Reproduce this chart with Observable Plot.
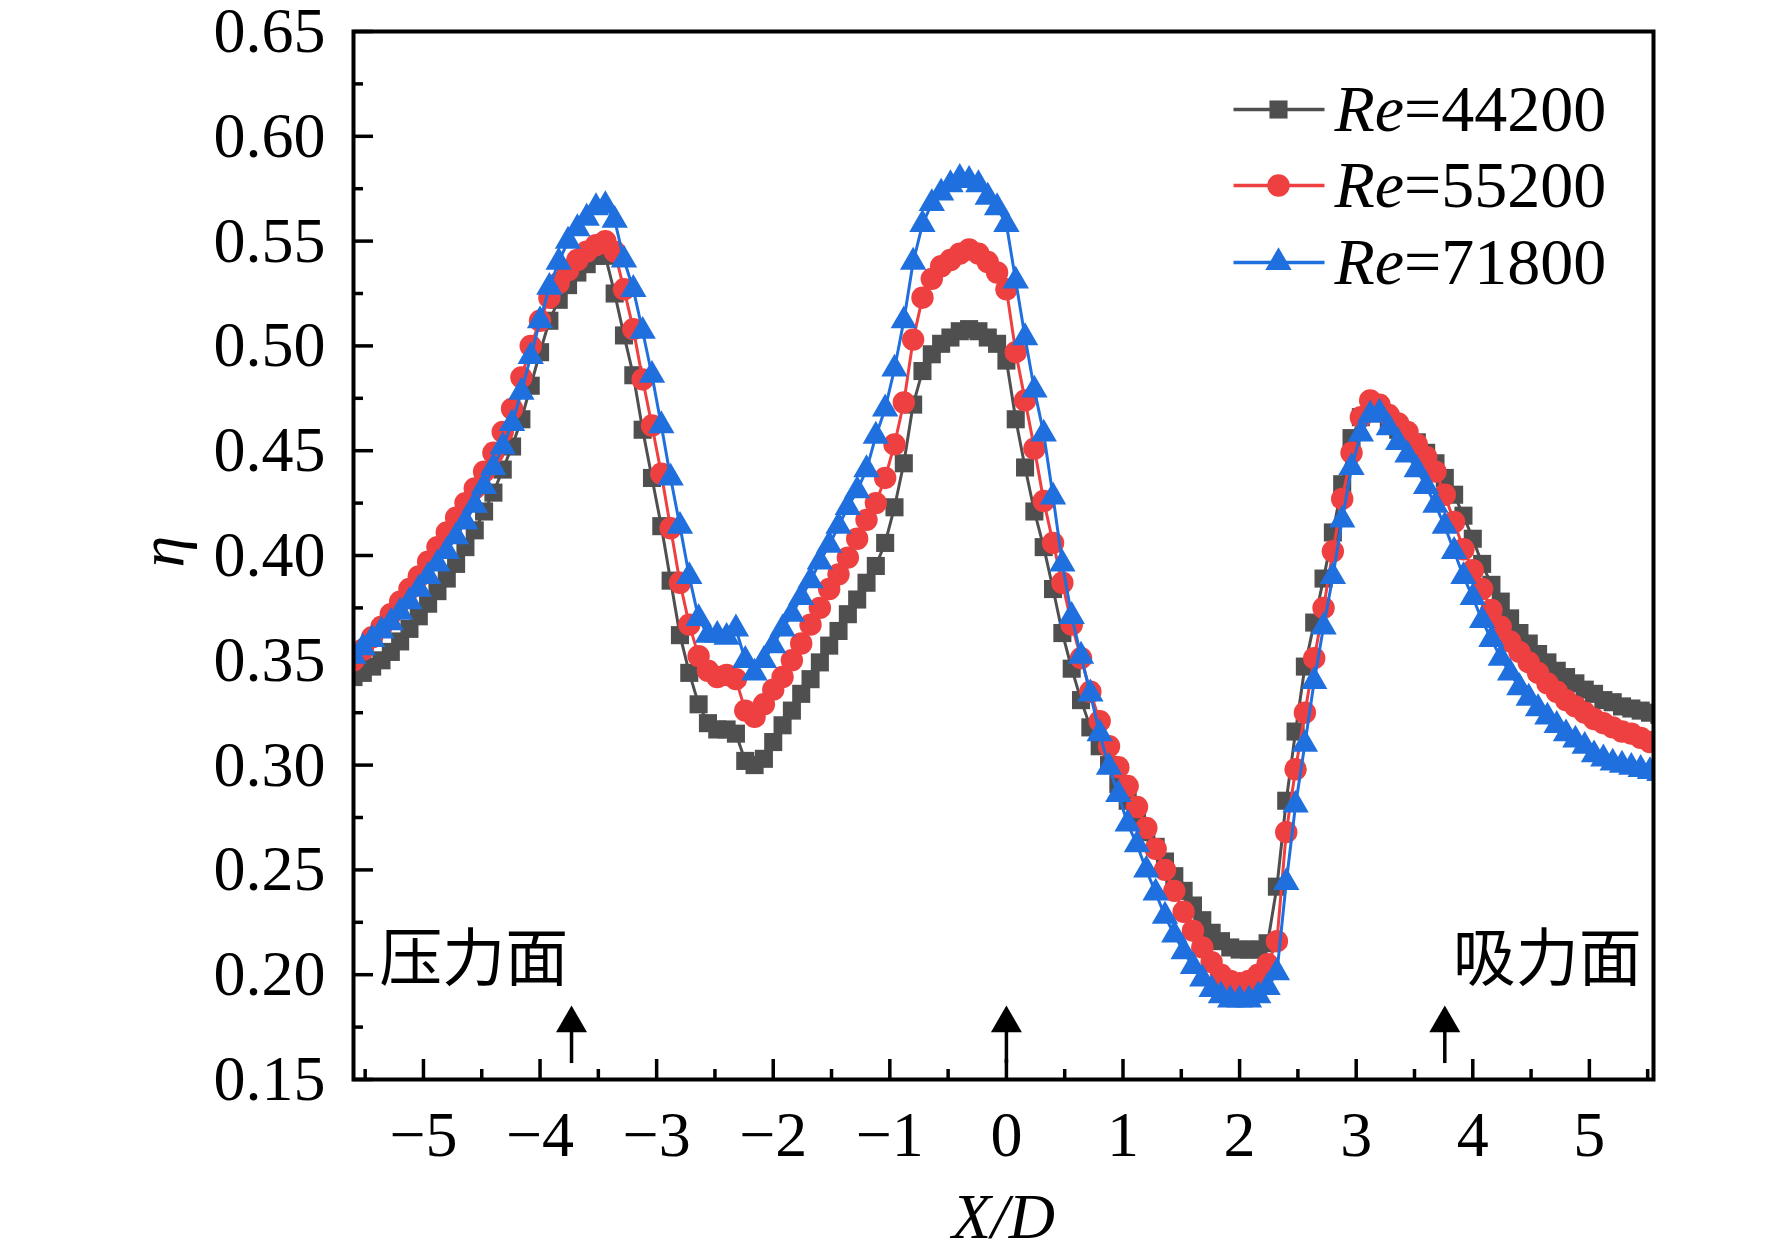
<!DOCTYPE html>
<html><head><meta charset="utf-8">
<script src="https://cdn.jsdelivr.net/npm/d3@7"></script>
<script src="https://cdn.jsdelivr.net/npm/@observablehq/plot@0.6"></script>
<style>
html,body{margin:0;padding:0;background:#fff;}
#chart{width:1772px;height:1252px;overflow:hidden;}
</style></head><body><div id="chart"></div>
<script>
// ---------- data ----------
const xD = [-5.60,-5.52,-5.44,-5.36,-5.28,-5.20,-5.12,-5.04,-4.96,-4.88,
  -4.80,-4.72,-4.64,-4.56,-4.48,-4.40,-4.32,-4.24,-4.16,-4.08,
  -4.00,-3.92,-3.84,-3.76,-3.68,-3.60,-3.52,-3.44,-3.36,-3.28,
  -3.20,-3.12,-3.04,-2.96,-2.88,-2.80,-2.72,-2.64,-2.56,-2.48,
  -2.40,-2.32,-2.24,-2.16,-2.08,-2.00,-1.92,-1.84,-1.76,-1.68,
  -1.60,-1.52,-1.44,-1.36,-1.28,-1.20,-1.12,-1.04,-0.96,-0.88,
  -0.80,-0.72,-0.64,-0.56,-0.48,-0.40,-0.32,-0.24,-0.16,-0.08,
  0.00,0.08,0.16,0.24,0.32,0.40,0.48,0.56,0.64,0.72,
  0.80,0.88,0.96,1.04,1.12,1.20,1.28,1.36,1.44,1.52,
  1.60,1.68,1.76,1.84,1.92,2.00,2.08,2.16,2.24,2.32,
  2.40,2.48,2.56,2.64,2.72,2.80,2.88,2.96,3.04,3.12,
  3.20,3.28,3.36,3.44,3.52,3.60,3.68,3.76,3.84,3.92,
  4.00,4.08,4.16,4.24,4.32,4.40,4.48,4.56,4.64,4.72,
  4.80,4.88,4.96,5.04,5.12,5.20,5.28,5.36,5.44,5.52,
  5.60];

const re44200 = [0.342,0.344,0.347,0.350,0.354,0.359,0.365,0.371,0.377,0.383,
  0.389,0.396,0.404,0.412,0.421,0.430,0.441,0.452,0.465,0.481,
  0.497,0.512,0.522,0.529,0.535,0.539,0.543,0.543,0.525,0.505,
  0.486,0.460,0.437,0.414,0.388,0.362,0.344,0.329,0.320,0.317,
  0.317,0.315,0.302,0.300,0.303,0.311,0.319,0.326,0.334,0.341,
  0.349,0.357,0.364,0.372,0.379,0.387,0.395,0.406,0.423,0.444,
  0.472,0.488,0.496,0.501,0.504,0.507,0.508,0.507,0.504,0.501,
  0.493,0.465,0.442,0.421,0.404,0.384,0.363,0.346,0.331,0.318,
  0.309,0.300,0.291,0.283,0.276,0.268,0.261,0.254,0.247,0.240,
  0.233,0.226,0.220,0.216,0.213,0.212,0.212,0.212,0.215,0.242,
  0.283,0.316,0.347,0.368,0.389,0.411,0.434,0.456,0.466,0.471,
  0.468,0.463,0.460,0.457,0.454,0.449,0.444,0.437,0.429,0.419,
  0.408,0.396,0.386,0.378,0.370,0.363,0.358,0.353,0.349,0.345,
  0.342,0.339,0.336,0.334,0.331,0.330,0.328,0.327,0.326,0.325,
  0.324];

const re55200 = [0.350,0.355,0.361,0.366,0.372,0.378,0.384,0.390,0.397,0.404,
  0.411,0.418,0.425,0.432,0.440,0.449,0.459,0.470,0.485,0.500,
  0.512,0.523,0.530,0.536,0.541,0.545,0.548,0.550,0.545,0.527,
  0.508,0.484,0.462,0.439,0.413,0.387,0.367,0.352,0.345,0.342,
  0.343,0.341,0.326,0.323,0.329,0.336,0.342,0.350,0.358,0.367,
  0.375,0.384,0.391,0.399,0.408,0.417,0.425,0.437,0.453,0.473,
  0.503,0.523,0.532,0.538,0.541,0.544,0.546,0.544,0.540,0.535,
  0.527,0.497,0.474,0.451,0.426,0.406,0.387,0.367,0.351,0.335,
  0.321,0.309,0.299,0.290,0.280,0.270,0.260,0.250,0.240,0.230,
  0.221,0.213,0.206,0.200,0.197,0.196,0.197,0.200,0.205,0.216,
  0.268,0.298,0.325,0.351,0.375,0.402,0.427,0.449,0.466,0.474,
  0.472,0.467,0.463,0.459,0.453,0.447,0.440,0.429,0.416,0.403,
  0.393,0.384,0.374,0.366,0.359,0.354,0.349,0.344,0.339,0.335,
  0.331,0.328,0.325,0.322,0.320,0.318,0.316,0.315,0.313,0.311,
  0.310];

const re71800 = [0.352,0.356,0.360,0.364,0.368,0.373,0.378,0.384,0.390,0.396,
  0.402,0.409,0.416,0.424,0.433,0.442,0.452,0.463,0.478,0.495,
  0.512,0.528,0.540,0.550,0.556,0.561,0.566,0.567,0.560,0.541,
  0.527,0.507,0.486,0.462,0.437,0.414,0.390,0.370,0.362,0.362,
  0.361,0.365,0.350,0.344,0.350,0.357,0.365,0.372,0.380,0.388,
  0.397,0.405,0.414,0.423,0.431,0.441,0.457,0.470,0.489,0.512,
  0.540,0.558,0.568,0.573,0.577,0.580,0.579,0.577,0.571,0.566,
  0.558,0.531,0.504,0.479,0.458,0.428,0.396,0.371,0.352,0.334,
  0.315,0.299,0.286,0.272,0.262,0.250,0.239,0.228,0.219,0.211,
  0.204,0.198,0.193,0.190,0.188,0.188,0.188,0.190,0.194,0.201,
  0.244,0.281,0.310,0.340,0.366,0.390,0.417,0.442,0.458,0.467,
  0.468,0.461,0.454,0.448,0.441,0.433,0.424,0.414,0.402,0.390,
  0.380,0.369,0.360,0.351,0.344,0.337,0.332,0.327,0.323,0.319,
  0.315,0.312,0.309,0.305,0.303,0.301,0.300,0.299,0.298,0.297,
  0.296];

const seriesNames = ["Re=44200", "Re=55200", "Re=71800"];
const xTicks = [-5,-4,-3,-2,-1,0,1,2,3,4,5];
const xMinorTicks = [-5.5,-4.5,-3.5,-2.5,-1.5,-0.5,0.5,1.5,2.5,3.5,4.5,5.5];
const yTicks = [0.15,0.20,0.25,0.30,0.35,0.40,0.45,0.50,0.55,0.60,0.65];
const yMinorTicks = [0.175,0.225,0.275,0.325,0.375,0.425,0.475,0.525,0.575,0.625];
const noteLeft = {text: "压力面", x: -5.38, y: 0.207};
const noteRight = {text: "吸力面", x: 5.45, y: 0.207};
const arrowX = [-3.73, 0, 3.76];

// ---------- layout / style ----------
const W = 1772, H = 1252;
const mL = 353, mR = 119, mT = 31, mB = 173;
const pw = W - mL - mR, ph = H - mT - mB;
const xDomain = [-5.6, 5.55], yDomain = [0.15, 0.65];
const colors = ["#4f4f4f", "#ee4040", "#1f6fde"];
const symbols = ["square", "circle", "triangle"];
const radii = [10.2, 11.2, 9.8];
const serif = '"Liberation Serif", "Times New Roman", serif';
const cjk = '"Noto Sans CJK SC", "Noto Sans CJK JP", sans-serif';
const fs = 64;

const sx = d3.scaleLinear(xDomain, [mL, W - mR]);
const sy = d3.scaleLinear(yDomain, [H - mB, mT]);

const seriesVals = [re44200, re55200, re71800];
const series = seriesNames.map((name, i) => ({
  name, color: colors[i], symbol: symbols[i], r: radii[i],
  rows: xD.map((x, j) => ({x, y: seriesVals[i][j]}))
}));

// legend layout (pixels -> data)
const legRowsPx = [109, 185, 262];
const legend = series.map((s, i) => ({
  ...s,
  y: sy.invert(legRowsPx[i]),
  xa: sx.invert(1233), xb: sx.invert(1324), xm: sx.invert(1278), xt: sx.invert(1334)
}));

const fmtX = d => d < 0 ? "\u2212" + Math.abs(d) : String(d);

const marks = [];
// ticks (inward)
marks.push(Plot.ruleY(yTicks, {y: d => d, insetRight: pw - 20, stroke: "black", strokeWidth: 3.5}));
marks.push(Plot.ruleY(yMinorTicks, {y: d => d, insetRight: pw - 10, stroke: "black", strokeWidth: 3.5}));
marks.push(Plot.ruleX(xTicks, {x: d => d, insetTop: ph - 20, stroke: "black", strokeWidth: 3.5}));
marks.push(Plot.ruleX(xMinorTicks, {x: d => d, insetTop: ph - 10, stroke: "black", strokeWidth: 3.5}));
// tick labels
marks.push(Plot.text(yTicks, {y: d => d, text: d => d.toFixed(2), frameAnchor: "left", textAnchor: "end", dx: -28, fontSize: fs, lineAnchor: "middle"}));
marks.push(Plot.text(xTicks, {x: d => d, text: fmtX, frameAnchor: "bottom", dy: 56, fontSize: fs, lineAnchor: "middle"}));
// axis titles
marks.push(Plot.text(["X/D"], {frameAnchor: "bottom", dy: 138, fontSize: fs, fontStyle: "italic", lineAnchor: "middle"}));
marks.push(Plot.text(["\u03b7"], {frameAnchor: "left", dx: -191, dy: 12, rotate: -90, fontSize: fs, fontStyle: "italic", lineAnchor: "middle"}));

// series
series.forEach(s => {
  marks.push(Plot.line(s.rows, {x: "x", y: "y", stroke: s.color, strokeWidth: 3, clip: true}));
  marks.push(Plot.dot(s.rows, {x: "x", y: "y", symbol: s.symbol, r: s.r, fill: s.color, stroke: "none", clip: true}));
});

// annotations
marks.push(Plot.text([noteLeft], {x: "x", y: "y", text: "text", textAnchor: "start", fontSize: 63, fontFamily: cjk, lineAnchor: "middle"}));
marks.push(Plot.text([noteRight], {x: "x", y: "y", text: "text", textAnchor: "end", fontSize: 63, fontFamily: cjk, lineAnchor: "middle"}));
marks.push(Plot.ruleX(arrowX, {x: d => d, y1: 0.1576, y2: 0.182, stroke: "black", strokeWidth: 3.5}));
marks.push(Plot.dot(arrowX, {x: d => d, y: 0.1768, symbol: "triangle", r: 11.5, fill: "black", stroke: "none"}));

// legend
legend.forEach(l => {
  marks.push(Plot.link([l], {x1: "xa", x2: "xb", y1: "y", y2: "y", stroke: l.color, strokeWidth: 3.7}));
  marks.push(Plot.dot([l], {x: "xm", y: "y", symbol: l.symbol, r: l.r, fill: l.color, stroke: "none"}));
  marks.push(Plot.text([l], {x: "xt", y: "y", text: "name", textAnchor: "start", fontSize: 66, lineAnchor: "middle"}));
});

marks.push(Plot.frame({stroke: "black", strokeWidth: 4}));

const chart = Plot.plot({
  width: W, height: H,
  marginLeft: mL, marginRight: mR, marginTop: mT, marginBottom: mB,
  x: {domain: xDomain, axis: null},
  y: {domain: yDomain, axis: null},
  style: {fontFamily: serif, fontSize: fs + "px", background: "white", color: "black"},
  marks
});
document.getElementById("chart").append(chart);

// italic "Re" in legend labels
const NS = "http://www.w3.org/2000/svg";
chart.querySelectorAll("text").forEach(t => {
  const s = t.textContent;
  if (s.startsWith("Re=")) {
    while (t.firstChild) t.removeChild(t.firstChild);
    const a = document.createElementNS(NS, "tspan");
    a.setAttribute("font-style", "italic");
    a.textContent = "Re";
    const b = document.createElementNS(NS, "tspan");
    b.textContent = s.slice(2);
    t.append(a, b);
  }
});
</script>
</body></html>
